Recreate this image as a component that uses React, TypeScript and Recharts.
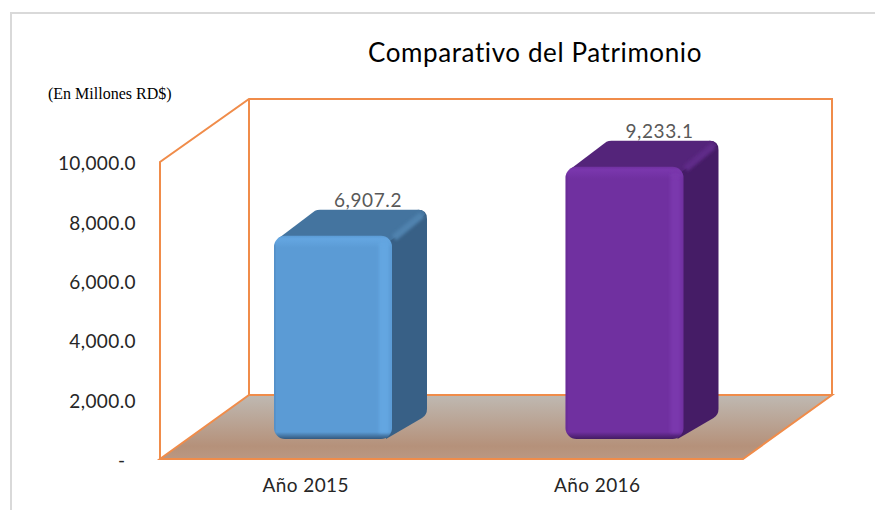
import React from "react";
import { BarChart, Bar, XAxis, YAxis, LabelList, Customized } from "recharts";

const categories = ["Año 2015", "Año 2016"];
const patrimonio = [6907.2, 9233.1];
const yTicks = [0, 2000, 4000, 6000, 8000, 10000];

const chartData = categories.map((name, i) => ({ name, value: patrimonio[i] }));

const faceColors = [
  { front: "#5b9bd5", light: "#64a6e1", top: "#44749f", bevel: "#4f82ae", side: "#386086", edge: "#34597e" },
  { front: "#7030a0", light: "#7a37ad", top: "#54247a", bevel: "#5f2a88", side: "#451c66", edge: "#431b63" },
];

const WIDTH = 875;
const HEIGHT = 510;
const LEFT = 160;
const RIGHT = 743;
const TOP = 162;
const BOTTOM = 459;
const DEPTH_X = 89;
const DEPTH_Y = -64;
const frameColor = "#f08c4a";
const axisFont = "Lato, sans-serif";
const tickStyle = {
  fontSize: 19,
  fontFamily: axisFont,
  fill: "#262626",
  letterSpacing: 0.4,
  fontVariantLigatures: "none",
};

const formatValue = (v: number) =>
  v.toLocaleString("en-US", { minimumFractionDigits: 1, maximumFractionDigits: 1 });

const formatTick = (v: number) => (v === 0 ? "-\u00a0\u00a0" : formatValue(v));

// back wall, side wall and floor of the 3d box
const Frame = () => {
  const bx0 = LEFT + DEPTH_X;
  const bx1 = RIGHT + DEPTH_X;
  const by0 = TOP + DEPTH_Y + 1;
  const by1 = BOTTOM + DEPTH_Y;
  return (
    <g>
      <defs>
        <linearGradient id="floorFill" x1="0" y1="0" x2="0" y2="1">
          <stop offset="0%" stopColor="#bfb9b2" />
          <stop offset="80%" stopColor="#b5917a" />
          <stop offset="100%" stopColor="#ba9883" />
        </linearGradient>
        <filter id="soft" x="-30%" y="-30%" width="160%" height="160%">
          <feGaussianBlur stdDeviation="1.6" />
        </filter>
      </defs>
      <polygon
        points={`${bx0},${by1} ${bx1},${by1} ${RIGHT},${BOTTOM} ${LEFT},${BOTTOM}`}
        fill="url(#floorFill)"
        stroke={frameColor}
        strokeWidth={2}
      />
      <polyline
        points={`${LEFT},${BOTTOM} ${LEFT},${TOP} ${bx0},${by0} ${bx1},${by0} ${bx1},${by1}`}
        fill="none"
        stroke={frameColor}
        strokeWidth={2}
      />
      <line x1={bx0} y1={by0} x2={bx0} y2={by1} stroke={frameColor} strokeWidth={2} />
    </g>
  );
};

const Bar3D = (props: any) => {
  const { x, y, width, height, index } = props;
  const c = faceColors[index];
  const x0 = x + 27;
  const x1 = x0 + width;
  const y0 = y - 18;
  const y1 = y + height - 20;
  const h = y1 - y0;
  const dx = 35;
  const dy = -26;
  return (
    <g>
      <defs>
        <linearGradient id={`front${index}`} x1="0" y1="0" x2="0" y2="1">
          <stop offset="0%" stopColor={c.front} />
          <stop offset={`${(3 / h) * 100}%`} stopColor={c.light} />
          <stop offset={`${(12 / h) * 100}%`} stopColor={c.front} />
          <stop offset={`${(1 - 7 / h) * 100}%`} stopColor={c.front} />
          <stop offset="100%" stopColor={c.edge} />
        </linearGradient>
        <clipPath id={`clip${index}`}>
          <rect x={x0} y={y0} width={width} height={h} rx={11} />
        </clipPath>
      </defs>
      {/* side face */}
      <path
        d={`M${x1 - 6},${y0 + 1} L${x1 + dx - 9},${y0 + dy} Q${x1 + dx},${y0 + dy} ${x1 + dx},${y0 + dy + 9}
            L${x1 + dx},${y1 + dy - 4} Q${x1 + dx},${y1 + dy + 2} ${x1 + dx - 5},${y1 + dy + 5}
            L${x1 - 6},${y1} Z`}
        fill={c.side}
      />
      {/* top face */}
      <path
        d={`M${x0 + 4},${y0 + 3} L${x0 + dx + 6},${y0 + dy + 1} Q${x0 + dx + 8},${y0 + dy} ${x0 + dx + 11},${y0 + dy}
            L${x1 + dx - 9},${y0 + dy} Q${x1 + dx - 3},${y0 + dy} ${x1 + dx - 2},${y0 + dy + 5}
            L${x1 - 3},${y0 + 6} Z`}
        fill={c.top}
      />
      {/* soft bevel where top and side meet */}
      <line
        x1={x1 + 2}
        y1={y0 + 2}
        x2={x1 + dx - 5}
        y2={y0 + dy + 5}
        stroke={c.bevel}
        strokeWidth={7}
        filter="url(#soft)"
      />
      {/* front face */}
      <rect x={x0} y={y0} width={width} height={h} rx={11} fill={`url(#front${index})`} />
      <g clipPath={`url(#clip${index})`}>
        <rect x={x1 - 13} y={y0 + 6} width={10} height={h - 12} fill={c.light} filter="url(#soft)" />
        <circle cx={x1 - 8} cy={y0 + 9} r={3} fill={c.light} filter="url(#soft)" />
        <rect x={x0 - 1} y={y0 + 8} width={2} height={h - 14} fill={c.edge} opacity={0.3} filter="url(#soft)" />
      </g>
    </g>
  );
};

const BarValueLabel = (props: any) => {
  const { x, y, width, value } = props;
  return (
    <text
      x={x + width / 2 + 62}
      y={y - 47}
      textAnchor="middle"
      fontSize={19}
      fontFamily={axisFont}
      letterSpacing={0.6}
      fill="#595959"
    >
      {formatValue(value)}
    </text>
  );
};

const App = () => {
  return (
    <div
      style={{
        position: "absolute",
        left: 0,
        top: 0,
        width: WIDTH,
        height: HEIGHT,
        background: "#fff",
        overflow: "hidden",
      }}
    >
      <div
        style={{
          position: "absolute",
          left: 10,
          top: 12,
          width: WIDTH,
          height: HEIGHT,
          borderLeft: "2px solid #d9d9d9",
          borderTop: "2px solid #d9d9d9",
        }}
      />
      <div style={{ position: "absolute", left: 0, top: 0 }}>
        <BarChart
          width={WIDTH}
          height={HEIGHT}
          data={chartData}
          margin={{ left: LEFT - 60, right: WIDTH - RIGHT, top: TOP, bottom: HEIGHT - BOTTOM - 40 }}
        >
          <Customized component={Frame} />
          <XAxis
            dataKey="name"
            height={40}
            axisLine={false}
            tickLine={false}
            tickMargin={14}
            tick={tickStyle}
          />
          <YAxis
            width={60}
            domain={[0, 10000]}
            ticks={yTicks}
            interval={0}
            tickFormatter={formatTick}
            axisLine={false}
            tickLine={false}
            tickMargin={18}
            tick={{ ...tickStyle, dy: 1.5 }}
          />
          <Bar dataKey="value" barSize={118} shape={Bar3D} isAnimationActive={false}>
            <LabelList dataKey="value" content={BarValueLabel} />
          </Bar>
          <text
            x={535}
            y={62}
            textAnchor="middle"
            fontSize={26}
            fontFamily={axisFont}
            letterSpacing={0.6}
            style={{ fontVariantLigatures: "none" }}
            fill="#000"
          >
            Comparativo del Patrimonio
          </text>
          <text x={48} y={99} fontSize={16} fontFamily="Liberation Serif, serif" fill="#000">
            (En Millones RD$)
          </text>
        </BarChart>
      </div>
    </div>
  );
};

export default App;
